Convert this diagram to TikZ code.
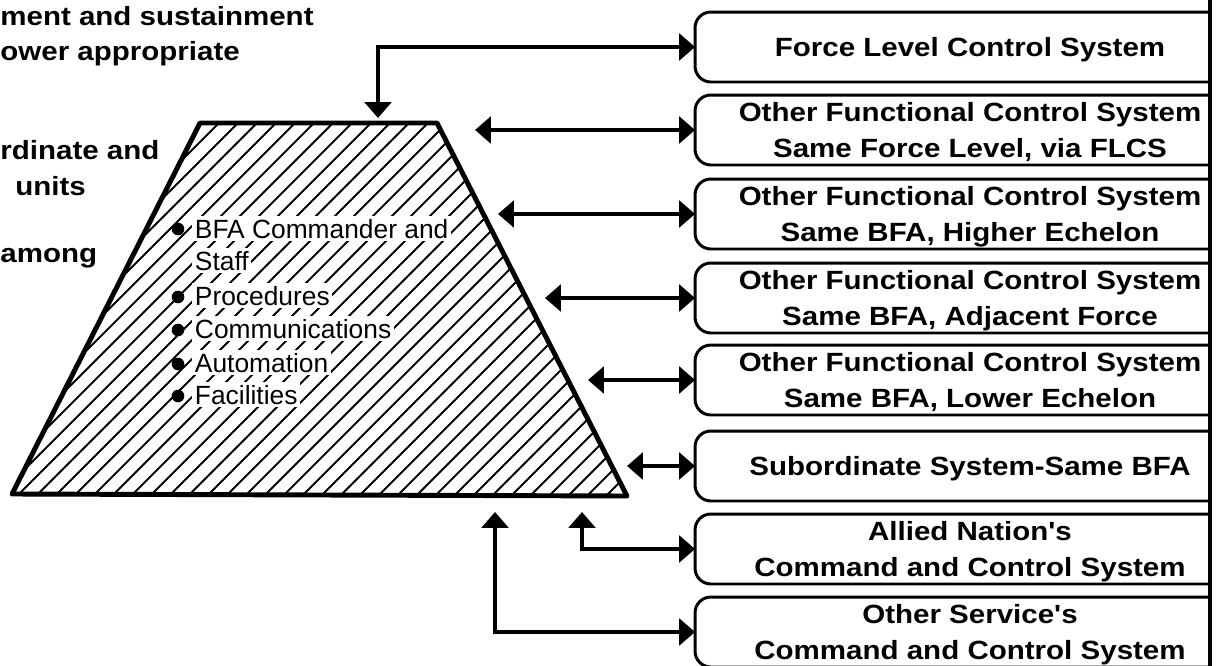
\documentclass[tikz,border=0pt]{standalone}
\usepackage{fontspec}
\setmainfont{Liberation Sans}
\newfontfamily\widefont[FakeStretch=1.12]{Liberation Sans}
\usepackage{tikz}
\usetikzlibrary{arrows.meta,positioning}

\begin{document}
\begin{tikzpicture}[
        x=0.02cm, y=-0.02cm,
        sysbox/.style={rectangle, draw, line width=1.7pt, rounded corners=9pt, minimum width=11cm, minimum height=1.4cm, align=center, inner sep=0pt, outer sep=0pt, text depth=0pt, font=\widefont\bfseries\fontsize{15}{20.5}\selectfont},
        item/.style={anchor=base west, fill=white, inner sep=1.5pt, font=\fontsize{15}{19}\selectfont},
        side/.style={anchor=base west, inner sep=0pt, font=\widefont\bfseries\fontsize{15}{20}\selectfont},
        hatch/.style={line width=1.1pt},
        link/.style={line width=2.3pt, {Triangle[width=15pt,length=9pt]}-{Triangle[width=15pt,length=9pt]}}
    ]
        \useasboundingbox (0,0) rectangle (1221,666);

        % Cut-off text on the left
        \node[side] (txta) at (0,26) {ment and sustainment};
        \node[side] (txtb) at (0,60) {ower appropriate};
        \node[side] (txtc) at (0,159) {rdinate and};
        \node[side] (txtd) at (15,195) {units};
        \node[side] (txte) at (0,262) {among};

        % Trapezoid
        \coordinate (tl) at (200,123);
        \coordinate (tr) at (437,123);
        \coordinate (br) at (627,496);
        \coordinate (bl) at (12,494);
        \begin{scope}
            \clip (tl) -- (tr) -- (br) -- (bl) -- cycle;
            \foreach \h in {-520,-501,...,660}
                \draw[hatch] (\h,520) -- ++(520,-520);
        \end{scope}
        \draw[line width=2.8pt, line join=round] (tl) -- (tr) -- (br) -- (bl) -- cycle;

        % Contents
        \node[item] (cmdr) at (192,238) {BFA Commander and};
        \node[item] (staff) at (192,270) {Staff};
        \node[item] (proc) at (192,305) {Procedures};
        \node[item] (comms) at (192,338) {Communications};
        \node[item] (auto) at (192,372) {Automation};
        \node[item] (facil) at (192,404) {Facilities};
        \foreach \y in {229,297,330,364,396}
            \fill (178,\y) circle (3.6pt);

        % Systems
        \begin{scope}
            \clip (0,0) rectangle (1210,700);
            \node[sysbox] (flcs) at (970,47) {Force Level Control System};
            \node[sysbox] (ofcsflcs) at (970,130) {Other Functional Control System\\Same Force Level, via FLCS};
            \node[sysbox] (ofcshigh) at (970,214) {Other Functional Control System\\Same BFA, Higher Echelon};
            \node[sysbox] (ofcsadj) at (970,298) {Other Functional Control System\\Same BFA, Adjacent Force};
            \node[sysbox] (ofcslow) at (970,380) {Other Functional Control System\\Same BFA, Lower Echelon};
            \node[sysbox] (subsys) at (970,466) {Subordinate System-Same BFA};
            \node[sysbox] (allied) at (970,549) {Allied Nation's\\Command and Control System};
            \node[sysbox] (service) at (970,632) {Other Service's\\Command and Control System};
        \end{scope}
        \draw[line width=2pt] (1210,0) -- (1210,666);

        % Arrows
        \coordinate (intop) at (378,118);
        \coordinate (inflcs) at (475,130);
        \coordinate (inhigh) at (498,214);
        \coordinate (inadj) at (545,298);
        \coordinate (inlow) at (588,380);
        \coordinate (insub) at (627,466);
        \coordinate (inallied) at (582,512);
        \coordinate (inservice) at (495,512);

        \draw[link] (intop) |- (flcs.west);
        \draw[link] (inflcs) -- (ofcsflcs.west);
        \draw[link] (inhigh) -- (ofcshigh.west);
        \draw[link] (inadj) -- (ofcsadj.west);
        \draw[link] (inlow) -- (ofcslow.west);
        \draw[link] (insub) -- (subsys.west);
        \draw[link] (inallied) |- (allied.west);
        \draw[link] (inservice) |- (service.west);

    \end{tikzpicture}
\end{document}
